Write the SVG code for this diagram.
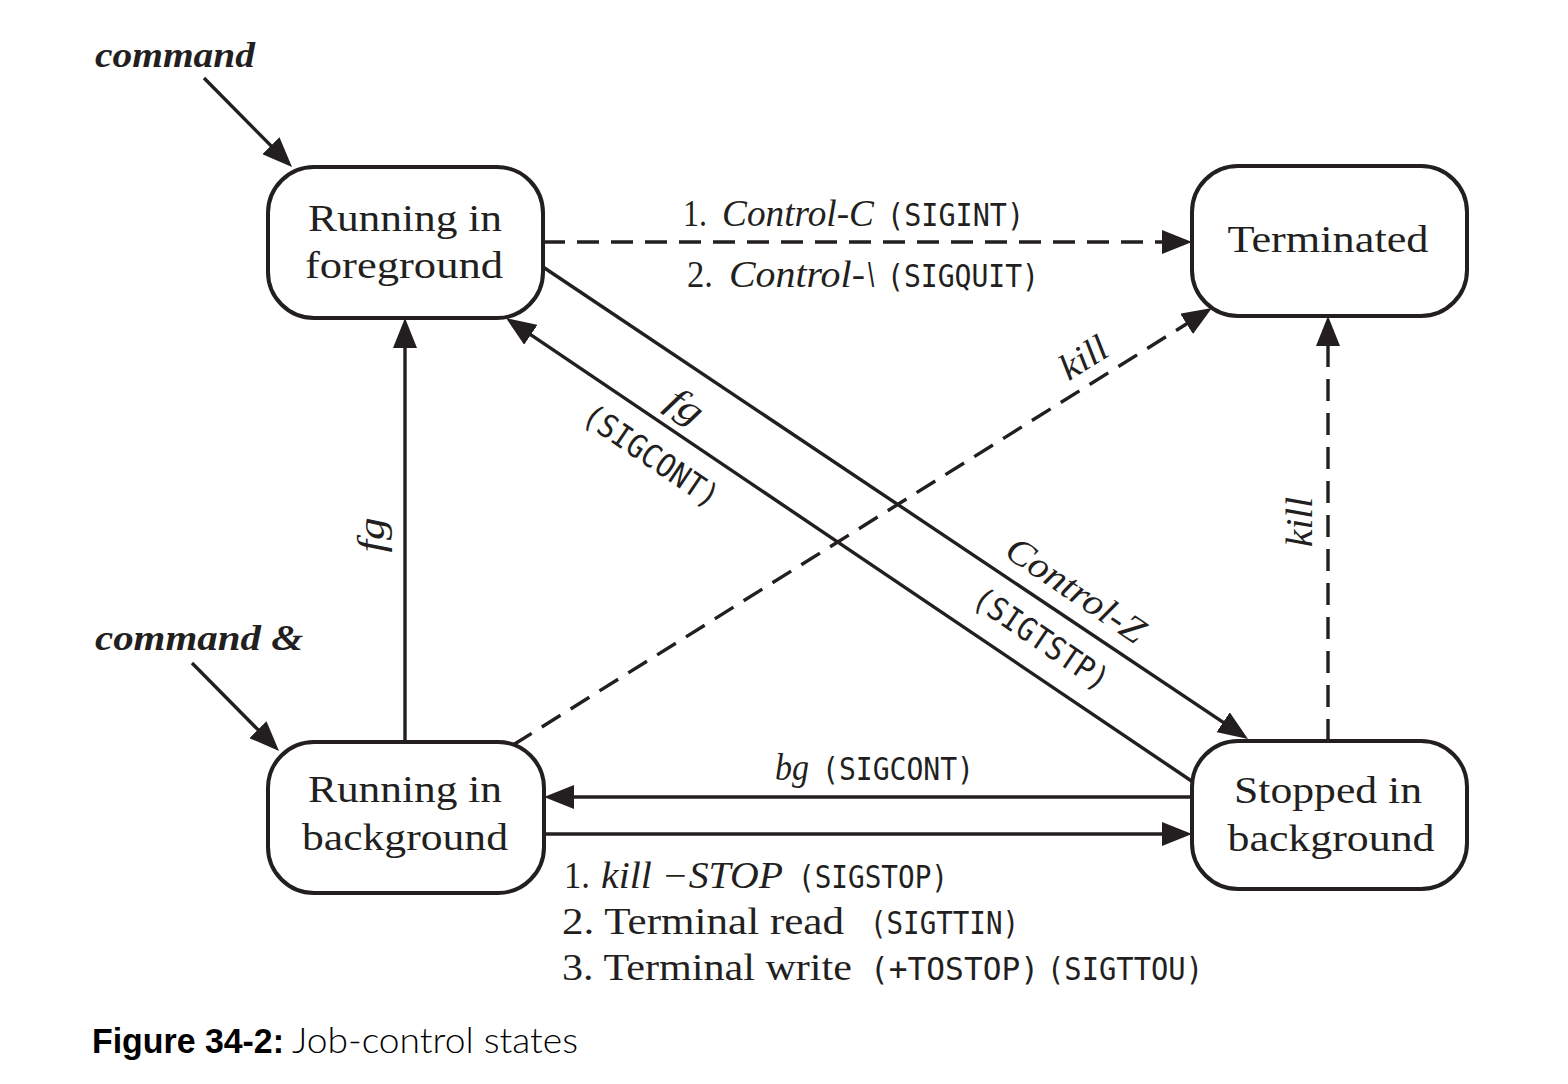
<svg xmlns="http://www.w3.org/2000/svg" width="1568" height="1084" viewBox="0 0 1568 1084">
  <style>
    .box { fill: #ffffff; stroke: #231f20; stroke-width: 4; }
    .edge { fill: none; stroke: #231f20; stroke-width: 3.4; }
    .dash { stroke-dasharray: 22 12; }
    .serif { font-family: "Liberation Serif", "Times New Roman", serif; fill: #231f20; }
    .node { font-size: 38px; text-anchor: middle; }
    .lbl { font-size: 37px; }
    .it { font-style: italic; }
    .mono { font-family: "DejaVu Sans Mono", "Liberation Mono", monospace; font-size: 32px; font-style: normal; }
    .entry { font-family: "Liberation Serif", serif; font-style: italic; font-weight: bold; font-size: 36px; fill: #231f20; }
    .cap-b { font-family: "Liberation Sans Narrow", "Liberation Sans", sans-serif; font-weight: bold; font-size: 35px; fill: #000; }
    .cap-r { font-family: "Lato", "Liberation Sans", sans-serif; font-weight: 300; font-size: 35px; fill: #000; }
  </style>
  <defs>
    <marker id="head" viewBox="0 0 30 24" markerWidth="30" markerHeight="24" markerUnits="userSpaceOnUse" refX="20" refY="12" orient="auto">
      <path d="M0,0 L30,12 L0,24 Z" fill="#231f20"/>
    </marker>
  </defs>

  <rect width="1568" height="1084" fill="#ffffff"/>

  <!-- transitions -->
  <g id="connectors">
    <line class="edge" x1="204" y1="78" x2="285" y2="159.9" marker-end="url(#head)"/>
    <line class="edge" x1="192" y1="663" x2="272" y2="743.9" marker-end="url(#head)"/>
    <line class="edge dash" x1="543" y1="242" x2="1182" y2="242" marker-end="url(#head)"/>
    <line class="edge" x1="405" y1="742" x2="405" y2="328" marker-end="url(#head)"/>
    <line class="edge" x1="543" y1="267" x2="1239.7" y2="733.4" marker-end="url(#head)"/>
    <line class="edge" x1="1193" y1="782" x2="514.3" y2="323.6" marker-end="url(#head)"/>
    <line class="edge dash" x1="513" y1="745" x2="1203.5" y2="313.3" marker-end="url(#head)"/>
    <line class="edge dash" x1="1328" y1="741" x2="1328" y2="326" marker-end="url(#head)"/>
    <line class="edge" x1="1192" y1="797" x2="554" y2="797" marker-end="url(#head)"/>
    <line class="edge" x1="544" y1="834" x2="1182" y2="834" marker-end="url(#head)"/>

    <!-- transition labels -->
    <text class="serif lbl" y="226"><tspan x="683" textLength="24" lengthAdjust="spacingAndGlyphs">1.</tspan><tspan class="it" x="722" textLength="152" lengthAdjust="spacingAndGlyphs">Control-C</tspan><tspan class="mono" x="887" textLength="137" lengthAdjust="spacingAndGlyphs">(SIGINT)</tspan></text>
    <text class="serif lbl" y="287"><tspan x="687" textLength="26" lengthAdjust="spacingAndGlyphs">2.</tspan><tspan class="it" x="729" textLength="147" lengthAdjust="spacingAndGlyphs">Control-\</tspan><tspan class="mono" x="887" textLength="152" lengthAdjust="spacingAndGlyphs">(SIGQUIT)</tspan></text>

    <text class="serif lbl it" transform="translate(384,535) rotate(-90)" text-anchor="middle" textLength="35" lengthAdjust="spacingAndGlyphs">fg</text>
    <text class="serif lbl it" transform="translate(1312,522) rotate(-90)" text-anchor="middle" textLength="50" lengthAdjust="spacingAndGlyphs">kill</text>
    <text class="serif lbl it" transform="translate(1090,368) rotate(-32)" text-anchor="middle" textLength="50" lengthAdjust="spacingAndGlyphs">kill</text>

    <text class="serif lbl it" transform="translate(679,416) rotate(34)" text-anchor="middle" textLength="36" lengthAdjust="spacingAndGlyphs">fg</text>
    <text class="serif mono" transform="translate(645,465) rotate(34)" text-anchor="middle" textLength="157" lengthAdjust="spacingAndGlyphs">(SIGCONT)</text>
    <text class="serif lbl it" transform="translate(1069,600) rotate(34)" text-anchor="middle" textLength="160" lengthAdjust="spacingAndGlyphs">Control-Z</text>
    <text class="serif mono" transform="translate(1035,648) rotate(34)" text-anchor="middle" textLength="157" lengthAdjust="spacingAndGlyphs">(SIGTSTP)</text>

    <text class="serif lbl" y="780"><tspan class="it" x="775" textLength="34" lengthAdjust="spacingAndGlyphs">bg</tspan><tspan class="mono" x="822" textLength="152" lengthAdjust="spacingAndGlyphs">(SIGCONT)</tspan></text>

    <text class="serif lbl" y="888"><tspan x="564" textLength="26" lengthAdjust="spacingAndGlyphs">1.</tspan><tspan class="it" x="601" textLength="182" lengthAdjust="spacingAndGlyphs">kill −STOP</tspan><tspan class="mono" x="798" textLength="150" lengthAdjust="spacingAndGlyphs">(SIGSTOP)</tspan></text>
    <text class="serif lbl" y="934"><tspan x="562" textLength="282" lengthAdjust="spacingAndGlyphs">2. Terminal read</tspan><tspan class="mono" x="870" textLength="149" lengthAdjust="spacingAndGlyphs">(SIGTTIN)</tspan></text>
    <text class="serif lbl" y="980"><tspan x="562" textLength="290" lengthAdjust="spacingAndGlyphs">3. Terminal write</tspan><tspan class="mono" x="870" textLength="169" lengthAdjust="spacingAndGlyphs">(+TOSTOP)</tspan><tspan class="mono" x="1047" textLength="156" lengthAdjust="spacingAndGlyphs">(SIGTTOU)</tspan></text>
  </g>

  <!-- entry points -->
  <g id="entry-command">
    <text class="entry" x="95" y="67" textLength="160" lengthAdjust="spacingAndGlyphs">command</text>
  </g>
  <g id="entry-command-bg">
    <text class="entry" x="95" y="650" textLength="208" lengthAdjust="spacingAndGlyphs">command &amp;</text>
  </g>

  <!-- states -->
  <g id="running-foreground">
    <rect class="box" x="268" y="167" width="275" height="151" rx="46"/>
    <text class="serif node" x="405" y="231" textLength="194" lengthAdjust="spacingAndGlyphs">Running in</text>
    <text class="serif node" x="404" y="278" textLength="198" lengthAdjust="spacingAndGlyphs">foreground</text>
  </g>
  <g id="terminated">
    <rect class="box" x="1192" y="166" width="275" height="150" rx="46"/>
    <text class="serif node" x="1328" y="252" textLength="201" lengthAdjust="spacingAndGlyphs">Terminated</text>
  </g>
  <g id="running-background">
    <rect class="box" x="268" y="742" width="276" height="151" rx="46"/>
    <text class="serif node" x="405" y="802" textLength="194" lengthAdjust="spacingAndGlyphs">Running in</text>
    <text class="serif node" x="405" y="850" textLength="206" lengthAdjust="spacingAndGlyphs">background</text>
  </g>
  <g id="stopped-background">
    <rect class="box" x="1192" y="741" width="275" height="148" rx="46"/>
    <text class="serif node" x="1328" y="803" textLength="188" lengthAdjust="spacingAndGlyphs">Stopped in</text>
    <text class="serif node" x="1331" y="851" textLength="207" lengthAdjust="spacingAndGlyphs">background</text>
  </g>

  <!-- caption -->
  <g id="caption">
    <text y="1053"><tspan class="cap-b" x="92" textLength="192" lengthAdjust="spacingAndGlyphs">Figure 34-2:</tspan><tspan class="cap-r" x="292" textLength="286" lengthAdjust="spacingAndGlyphs">Job-control states</tspan></text>
  </g>
</svg>
